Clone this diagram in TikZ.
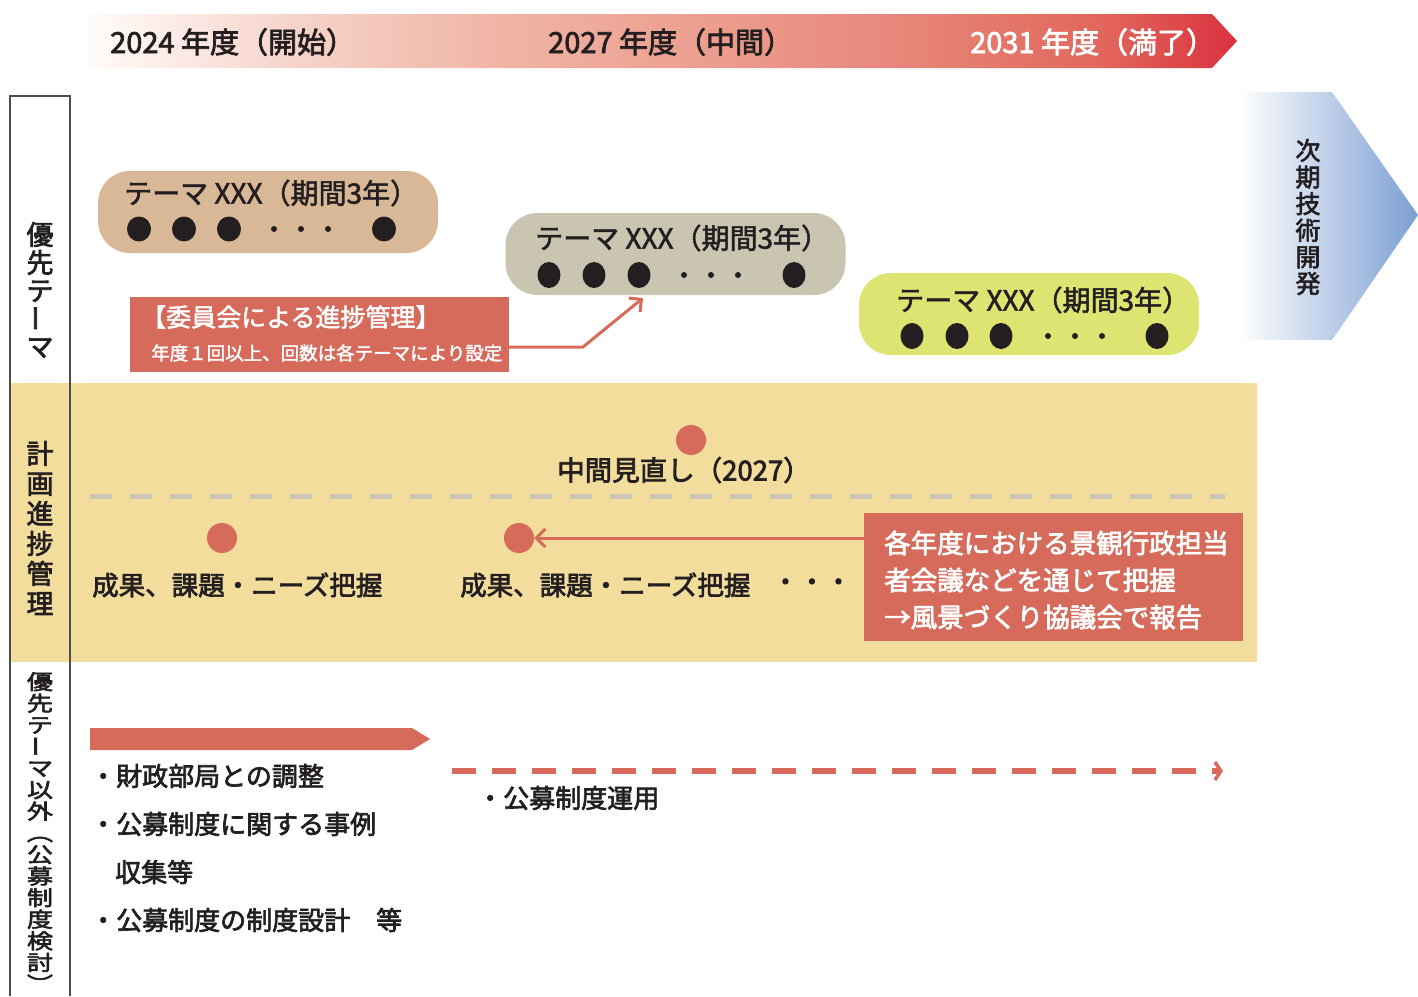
\documentclass[tikz,border=0pt]{standalone}
\usepackage{fontspec}
\usepackage{graphicx}
\setmainfont{Noto Sans CJK JP}
\newfontfamily\medfont{Noto Sans CJK JP}[FakeBold=2.6]
\newfontfamily\pillfont{Noto Sans CJK JP}[FakeBold=1.9]
\usetikzlibrary{arrows.meta}
\definecolor{accent}{HTML}{D66B5C}
\definecolor{ink}{HTML}{231F20}
\definecolor{tanpill}{HTML}{D9B898}
\definecolor{graypill}{HTML}{C9C5B1}
\definecolor{limepill}{HTML}{DDE472}
\definecolor{band}{HTML}{F2DD9C}
\definecolor{dashgray}{HTML}{CBC6B6}
\definecolor{nblue}{HTML}{7C9FD3}
\definecolor{colline}{HTML}{4D4D4D}
\definecolor{bz0}{HTML}{FFFCFA}
\definecolor{bz1}{HTML}{F6D2C8}
\definecolor{bz2}{HTML}{F0B4A5}
\definecolor{bz3}{HTML}{EC9F8F}
\definecolor{bz4}{HTML}{E7867A}
\definecolor{bz5}{HTML}{E2675C}
\definecolor{bz6}{HTML}{DA323F}
\pgfdeclarehorizontalshading{bannershade}{100bp}{color(0bp)=(bz0); color(25bp)=(bz0); color(34.5bp)=(bz1); color(43bp)=(bz2); color(51.5bp)=(bz3); color(60.5bp)=(bz4); color(69bp)=(bz5); color(75bp)=(bz6); color(100bp)=(bz6)}
\newcommand\vbar{\raisebox{0.17em}{\rotatebox[origin=c]{90}{ー}}}
\newcommand\fsz[2]{\fontsize{#1}{#2}\selectfont\lineskiplimit=-40pt\lineskip=0pt}
\begin{document}
\begin{tikzpicture}[x=1pt,y=-1pt,
  pill/.style={rounded corners=32pt, minimum width=340pt, minimum height=82pt, inner sep=0pt},
  pilltext/.style={anchor=west, inner sep=0pt, text=ink, font=\pillfont\fsz{28}{30}},
  redbox/.style={fill=accent, inner sep=0pt},
  rdot/.style={circle, fill=accent, minimum size=30pt, inner sep=0pt},
  conn/.style={draw=accent, line width=3pt, -{Straight Barb[length=9pt,width=18pt]}},
  bannertext/.style={anchor=west, inner sep=0pt, font=\medfont\fsz{29}{30}},
  boldtext/.style={anchor=west, inner sep=0pt, text=ink, font=\medfont\fsz{26.5}{30}},
  vlabel/.style={inner sep=0pt, align=center, text=ink},
]
\useasboundingbox (0,0) rectangle (1418,996);

% top banner
\shade[shading=bannershade]
  (85,14) -- (1212,14) -- (1237,41) -- (1212,68) -- (85,68) -- cycle;
\node[bannertext, text=ink] (y24) at (110,42) {2024 年度（開始）};
\node[bannertext, text=ink] (y27) at (548,42) {2027 年度（中間）};
\node[bannertext, text=white] (y31) at (970,42) {2031 年度（満了）};

% next tech arrow
\shade[left color=white, right color=nblue]
  (1240,92) -- (1332,92) -- (1418,215) -- (1332,340) -- (1240,340) -- cycle;
\node[vlabel, font=\medfont\fsz{25}{26.6}] (next) at (1308,217) {次\\期\\技\\術\\開\\発};

% yellow band
\node[fill=band, minimum width=1247pt, minimum height=279pt, inner sep=0pt, anchor=north west] (bandbox) at (10,383) {};

% theme pills
\node[pill, fill=tanpill] (p1) at (268,212) {};
\node[pilltext] (t1) at (124,193) {テーマ XXX（期間3年）};
\foreach \x in {139,184,229,384} \fill[ink] (\x,229) ellipse [x radius=12, y radius=12.5];
\foreach \x in {274,301,328} \fill[ink] (\x,229) circle [radius=3];

\node[pill, fill=graypill] (p2) at (675.5,254) {};
\node[pilltext] (t2) at (535,238) {テーマ XXX（期間3年）};
\foreach \x in {549,594,639,794} \fill[ink] (\x,275) ellipse [x radius=11.5, y radius=13];
\foreach \x in {684,711,738} \fill[ink] (\x,275) circle [radius=3];

\node[pill, fill=limepill] (p3) at (1029,314) {};
\node[pilltext] (t3) at (896,300) {テーマ XXX（期間3年）};
\foreach \x in {912,957,1001,1157} \fill[ink] (\x,336) ellipse [x radius=11.5, y radius=13];
\foreach \x in {1048,1075,1102} \fill[ink] (\x,336) circle [radius=3];

% committee box
\node[redbox, minimum width=379pt, minimum height=75pt] (cbox) at (319.5,334.5) {};
\node[anchor=west, inner sep=0pt, text=white, font=\pillfont\fsz{25}{28}] (c1) at (141,317) {【委員会による進捗管理】};
\node[anchor=west, inner sep=0pt, text=white, font=\pillfont\fsz{18.5}{20}] (c2) at (151,353) {年度１回以上、回数は各テーマにより設定};
\coordinate (k1) at (583,347);
\coordinate (k2) at (643,298);
\draw[conn] (cbox.east |- k1) -- (k1) -- (k2);

% band contents
\node[rdot] (mid) at (691,440) {};
\node[boldtext, font=\medfont\fsz{27.5}{30}] (midtxt) at (557,470) {中間見直し（2027）};
\draw[dashgray, line width=5pt, dash pattern=on 22pt off 18pt] (90,496) -- (1225,496);
\node[rdot] (m1) at (222,538) {};
\node[rdot] (m2) at (519,538) {};
\node[boldtext] (s1) at (92,585) {成果、課題・ニーズ把握};
\node[boldtext] (s2) at (460,585) {成果、課題・ニーズ把握};
\node[boldtext] (s3) at (772,585) {・・・};
\node[redbox, minimum width=379pt, minimum height=128pt] (rbox) at (1053.5,577) {};
\node[anchor=west, inner sep=0pt, align=left, text=white, font=\medfont\fsz{26.5}{37}] (rtxt) at (884,580)
  {各年度における景観行政担当\\者会議などを通じて把握\\→風景づくり協議会で報告};
\draw[conn] (rbox.west |- m2) -- (m2);

% bottom section
\fill[accent] (90,728) -- (412,728) -- (430,739) -- (412,750) -- (90,750) -- cycle;
\node[boldtext, font=\medfont\fsz{26}{30}] (b1) at (90,776) {・財政部局との調整};
\node[boldtext, font=\medfont\fsz{26}{30}] (b2) at (90,824) {・公募制度に関する事例};
\node[boldtext, font=\medfont\fsz{26}{30}] (b3) at (115,872) {収集等};
\node[boldtext, font=\medfont\fsz{26}{30}] (b4) at (90,920) {・公募制度の制度設計　等};
\coordinate (d1) at (452,771);
\coordinate (d2) at (1223,771);
\draw[accent, line width=6pt, dash pattern=on 24pt off 16pt, -{Straight Barb[length=6pt,width=18pt,line width=3.5pt]}] (d1) -- (d2);
\node[boldtext, font=\medfont\fsz{26}{30}] (b5) at (477,798) {・公募制度運用};

% left column
\draw[colline, line width=2pt] (10,996) -- (10,96) -- (70,96) -- (70,996);
\node[vlabel, font=\medfont\fsz{27}{28}] (L1) at (40,290) {優\\先\\テ\\\vbar\\マ};
\node[vlabel, font=\medfont\fsz{27}{30}] (L2) at (40,528) {計\\画\\進\\捗\\管\\理};
\node[vlabel, font=\medfont\fsz{26}{27}] (L3) at (40,832) {\scalebox{1}[0.8]{\parbox{40pt}{\centering 優\\先\\テ\\\vbar\\マ\\以\\外\\︵\\公\\募\\制\\度\\検\\討\\︶}}};
\end{tikzpicture}
\end{document}
